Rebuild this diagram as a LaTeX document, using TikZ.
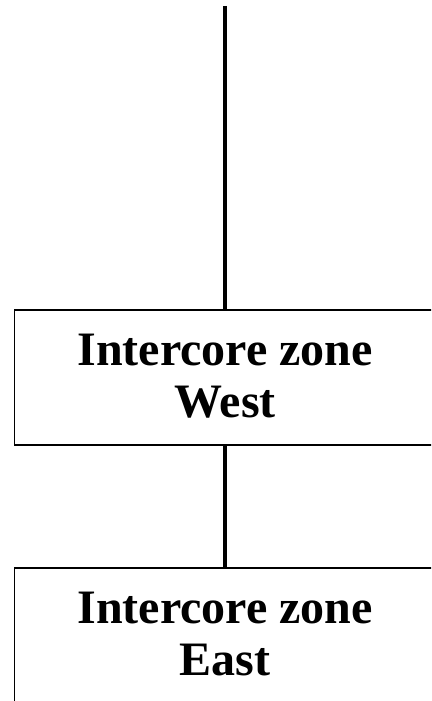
\documentclass[tikz,border=0pt]{standalone}
\usepackage{fontspec}
\setmainfont{Liberation Serif}
\tikzset{
  zonebox/.style={draw=black, line width=1.8pt, rectangle, minimum width=421.5pt, minimum height=135pt,
    inner sep=0pt, align=center, font=\bfseries\fontsize{48}{52}\selectfont},
  link/.style={draw=black, line width=4pt}
}
\begin{document}
\begin{tikzpicture}[x=1pt,y=-1pt]
\useasboundingbox (0,0) rectangle (431,701);
\clip (0,0) rectangle (431,701);
\coordinate (top) at (225.25,6);
\node[zonebox] (west) at (225.25,377.5) {Intercore zone\\West\rule[-4pt]{0pt}{0pt}};
\node[zonebox] (east) at (225.25,635.5) {Intercore zone\\East\rule[-4pt]{0pt}{0pt}};
\draw[link] (top) -- (west.north);
\draw[link] (west.south) -- (east.north);
\end{tikzpicture}
\end{document}
